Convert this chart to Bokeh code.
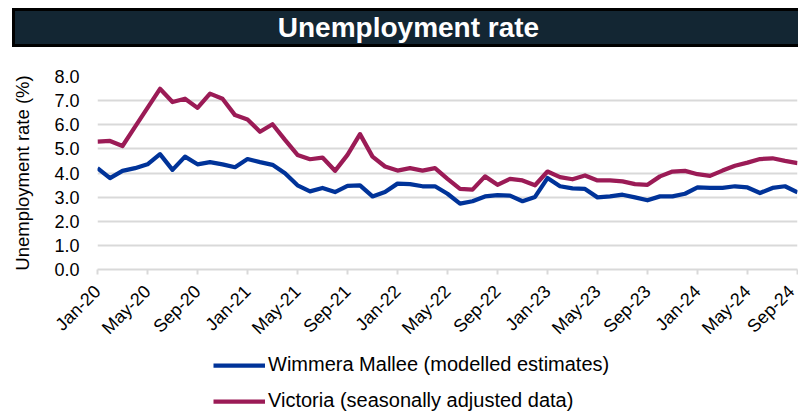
import math
from bokeh.plotting import figure
from bokeh.layouts import column
from bokeh.models import (Range1d, FixedTicker, NumeralTickFormatter, Legend, LegendItem,
                          ColumnDataSource, Div)
from bokeh.embed import file_html
from bokeh.resources import INLINE

# ---------------- data ----------------
month_names = ["Jan", "Feb", "Mar", "Apr", "May", "Jun", "Jul", "Aug", "Sep", "Oct", "Nov", "Dec"]
years = ["20", "21", "22", "23", "24"]
months = [f"{m}-{y}" for y in years for m in month_names][:57]  # Jan-20 .. Sep-24

wimmera = [4.20, 3.79, 4.09, 4.20, 4.36, 4.78, 4.13, 4.68, 4.36, 4.45, 4.36, 4.24,
           4.58, 4.45, 4.34, 3.99, 3.49, 3.24, 3.38, 3.21, 3.47, 3.49, 3.03, 3.21,
           3.56, 3.54, 3.45, 3.45, 3.14, 2.73, 2.83, 3.03, 3.08, 3.06, 2.83, 3.01,
           3.79, 3.45, 3.36, 3.34, 2.99, 3.03, 3.10, 2.99, 2.87, 3.03, 3.03, 3.14,
           3.40, 3.38, 3.38, 3.45, 3.40, 3.17, 3.38, 3.45, 3.20]

victoria = [5.30, 5.33, 5.12, 5.91, 6.70, 7.49, 6.94, 7.08, 6.70, 7.29, 7.08, 6.40,
            6.22, 5.71, 6.02, 5.37, 4.75, 4.57, 4.64, 4.09, 4.75, 5.61, 4.68, 4.27,
            4.10, 4.20, 4.10, 4.20, 3.76, 3.34, 3.31, 3.86, 3.51, 3.76, 3.69, 3.49,
            4.06, 3.83, 3.74, 3.90, 3.69, 3.69, 3.65, 3.54, 3.51, 3.86, 4.06, 4.09,
            3.95, 3.88, 4.10, 4.30, 4.43, 4.58, 4.61, 4.50, 4.41]

tick_labels = ["Jan-20", "May-20", "Sep-20", "Jan-21", "May-21", "Sep-21", "Jan-22", "May-22",
               "Sep-22", "Jan-23", "May-23", "Sep-23", "Jan-24", "May-24", "Sep-24"]
y_ticks = [0, 1, 2, 3, 4, 5, 6, 7, 8]

title_text = "Unemployment rate"
y_label = "Unemployment rate (%)"
series_names = ["Wimmera Mallee (modelled estimates)", "Victoria (seasonally adjusted data)"]

FONT = "Liberation Sans"
BLUE = "#003399"
RED = "#9B1B56"
GRID = "#D9D9D9"
LW = 4.25

# ---------------- header bar ----------------
hdr_html = (
    '<div style="display:flow-root;width:798px;height:47px;">'
    '<div style="margin:8px 0 0 12px;width:786px;height:39px;box-sizing:border-box;'
    'border:3px solid black;border-right:none;background:#132633;color:white;'
    "font-family:'Liberation Sans',Arial,sans-serif;font-weight:bold;font-size:28px;"
    'line-height:33px;text-align:center;padding-left:4px;white-space:nowrap;">'
    f'{title_text}</div></div>'
)
hdr = Div(text=hdr_html, width=798, height=47, margin=(0, 0, 0, 0))

# ---------------- main chart ----------------
idx = list(range(len(months)))
src = ColumnDataSource(dict(x=idx, month=months, wimmera=wimmera, victoria=victoria))
xr = Range1d(0, len(months) - 1)

p = figure(width=798, height=301, x_range=xr, y_range=Range1d(0, 8),
           toolbar_location=None, output_backend="svg",
           min_border_left=97, min_border_right=1, min_border_top=29, min_border_bottom=77,
           outline_line_color=None, background_fill_color="white", border_fill_color="white")

p.line("x", "wimmera", source=src, line_color=BLUE, line_width=LW, line_join="round")
p.line("x", "victoria", source=src, line_color=RED, line_width=LW, line_join="round")

# x axis
tick_pos = [months.index(t) for t in tick_labels]
p.xaxis.ticker = FixedTicker(ticks=tick_pos)
p.xaxis.major_label_overrides = {tp: t for tp, t in zip(tick_pos, tick_labels)}
p.xaxis.major_label_orientation = math.pi / 4
p.xaxis.axis_line_color = GRID
p.xaxis.axis_line_width = 2
p.xaxis.major_tick_line_color = GRID
p.xaxis.major_tick_line_width = 2
p.xaxis.major_tick_in = 0
p.xaxis.major_tick_out = 5
p.xaxis.minor_tick_line_color = None
p.xaxis.major_label_text_font = FONT
p.xaxis.major_label_text_font_size = "18px"
p.xaxis.major_label_text_color = "black"
p.xaxis.major_label_standoff = 14

# y axis
p.yaxis.ticker = FixedTicker(ticks=y_ticks)
p.yaxis.formatter = NumeralTickFormatter(format="0.0")
p.yaxis.axis_line_color = None
p.yaxis.major_tick_line_color = None
p.yaxis.minor_tick_line_color = None
p.yaxis.major_tick_out = 0
p.yaxis.major_tick_in = 0
p.yaxis.major_label_standoff = 18
p.yaxis.major_label_text_font = FONT
p.yaxis.major_label_text_font_size = "18px"
p.yaxis.major_label_text_color = "black"
p.yaxis.axis_label = y_label
p.yaxis.axis_label_text_font = FONT
p.yaxis.axis_label_text_font_size = "18.5px"
p.yaxis.axis_label_text_font_style = "normal"
p.yaxis.axis_label_text_color = "black"
p.yaxis.axis_label_standoff = 18

p.xgrid.visible = False
p.ygrid.ticker = FixedTicker(ticks=y_ticks)
p.ygrid.grid_line_color = GRID
p.ygrid.grid_line_width = 2

# ---------------- legend strip ----------------
lg = figure(width=798, height=64, x_range=xr, y_range=Range1d(100, 101),
            toolbar_location=None, output_backend="svg", x_axis_type=None, y_axis_type=None,
            min_border_left=97, min_border_right=1, min_border_top=0, min_border_bottom=0,
            outline_line_color=None, background_fill_color="white", border_fill_color="white")
lg.grid.visible = False
l1 = lg.line("x", "wimmera", source=src, line_color=BLUE, line_width=LW)
l2 = lg.line("x", "victoria", source=src, line_color=RED, line_width=LW)

legend = Legend(items=[LegendItem(label=series_names[0], renderers=[l1]),
                       LegendItem(label=series_names[1], renderers=[l2])],
                location=(116, 0), orientation="vertical",
                glyph_width=52, glyph_height=22, label_height=22, spacing=13,
                padding=0, margin=0, label_standoff=3,
                border_line_color=None, background_fill_alpha=0,
                label_text_font=FONT, label_text_font_size="20px", label_text_color="black")
lg.add_layout(legend)

layout = column(hdr, p, lg, spacing=0)
open("out.html", "w").write(file_html(layout, INLINE))
